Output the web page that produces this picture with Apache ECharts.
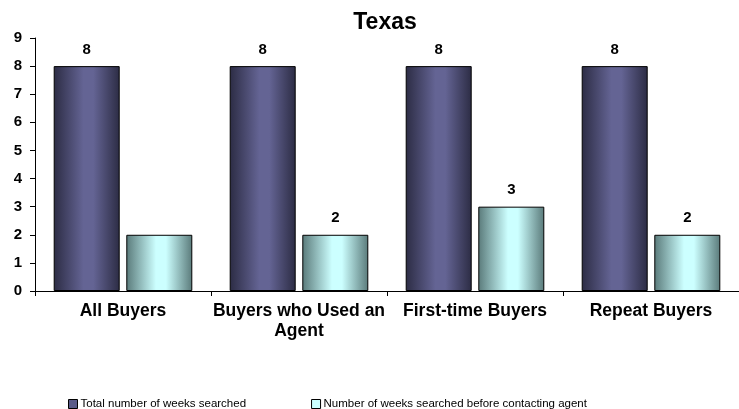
<!DOCTYPE html>
<html>
<head>
<meta charset="utf-8">
<script src="https://cdn.jsdelivr.net/npm/echarts@6/dist/echarts.min.js"></script>
<style>
  html, body { margin: 0; padding: 0; background: #fff; }
  #chart { width: 739px; height: 409px; }
</style>
</head>
<body>
<div id="chart"></div>
<script>
// 数据
const categories = ['All Buyers', 'Buyers who Used an\nAgent', 'First-time Buyers', 'Repeat Buyers']
const totalWeeks = [8, 8, 8, 8]
const beforeAgentWeeks = [2, 2, 3, 2]
const hiddenLabels = [true, false, false, false]  // 原图第一组浅色柱没有标签
const yTicks = { min: 0, max: 9, step: 1 }

const font = 'Liberation Sans, Arial, sans-serif'

// 横向渐变(柱子的圆柱效果)
const barGradient = (edge, mid) => new echarts.graphic.LinearGradient(0, 0, 1, 0, [
  { offset: 0, color: edge },
  { offset: 0.45, color: mid },
  { offset: 0.6, color: mid },
  { offset: 1, color: edge }
])

const labelStyle = {
  show: true,
  position: 'top',
  distance: 9,
  color: '#000',
  fontFamily: font,
  fontSize: 15,
  fontWeight: 'bold'
}

const chart = echarts.init(document.getElementById('chart'))

const option = {
  backgroundColor: '#fff',
  animation: false,
  title: {
    text: 'Texas',
    left: 380,
    top: 6,
    textAlign: 'center',
    textStyle: { fontFamily: font, fontSize: 23, fontWeight: 'bold', color: '#000' }
  },
  legend: {
    left: 63,
    top: 393,
    itemWidth: 9,
    itemHeight: 9,
    itemGap: 65,
    icon: 'rect',
    textStyle: { fontFamily: font, fontSize: 11.5, color: '#000', padding: [0, 0, 0, -2] },
    data: [
      { name: 'Total number of weeks searched', itemStyle: { color: '#5a5a88', borderColor: '#000', borderWidth: 1 } },
      { name: 'Number of weeks searched before contacting agent', itemStyle: { color: '#ccffff', borderColor: '#000', borderWidth: 1 } }
    ]
  },
  grid: {
    left: 35,
    top: 38,
    width: 708,
    bottom: 118,
    containLabel: false
  },
  xAxis: {
    type: 'category',
    data: categories,
    axisLine: { lineStyle: { color: '#000', width: 1 } },
    axisTick: { show: true, length: 5, lineStyle: { color: '#000' } },
    axisLabel: {
      interval: 0,
      margin: 10,
      color: '#000',
      fontFamily: font,
      fontSize: 17.5,
      fontWeight: 'bold',
      lineHeight: 20
    }
  },
  yAxis: {
    type: 'value',
    min: yTicks.min,
    max: yTicks.max,
    interval: yTicks.step,
    splitLine: { show: false },
    axisLine: { show: true, lineStyle: { color: '#000', width: 1 } },
    axisTick: { show: true, length: 5, lineStyle: { color: '#000' } },
    axisLabel: {
      margin: 13,
      color: '#000',
      fontFamily: font,
      fontSize: 15,
      fontWeight: 'bold'
    }
  },
  series: [
    {
      name: 'Total number of weeks searched',
      type: 'bar',
      barWidth: 66,
      barGap: '10%',
      data: totalWeeks,
      itemStyle: {
        color: barGradient('#2c2c44', '#646494'),
        borderColor: '#000',
        borderWidth: 1
      },
      label: labelStyle
    },
    {
      name: 'Number of weeks searched before contacting agent',
      type: 'bar',
      barWidth: 66,
      data: beforeAgentWeeks.map((v, i) => ({
        value: v,
        label: { show: !hiddenLabels[i] }
      })),
      itemStyle: {
        color: barGradient('#5a7a7a', '#ccffff'),
        borderColor: '#000',
        borderWidth: 1
      },
      label: labelStyle
    }
  ]
}

chart.setOption(option)
</script>
</body>
</html>
